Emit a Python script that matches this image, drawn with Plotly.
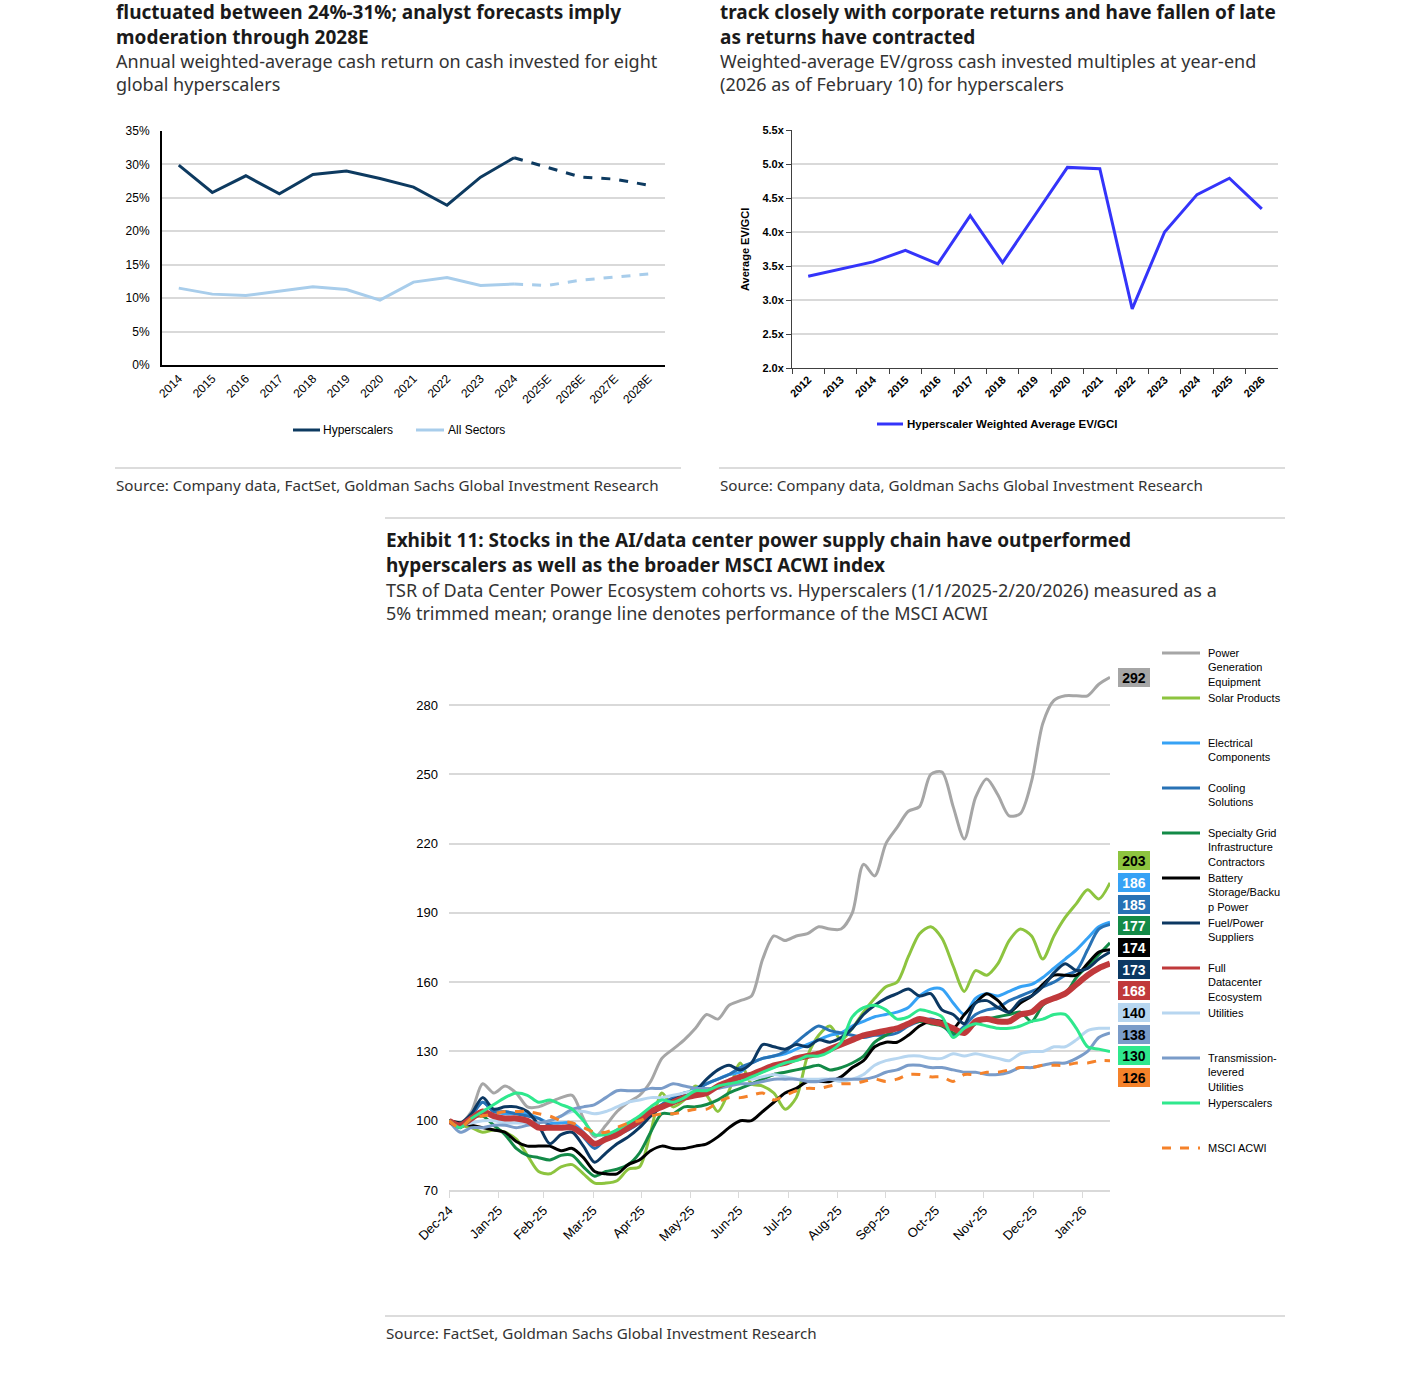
import datetime as dt
import plotly.graph_objects as go

W, H = 1401, 1379


def px(x):
    return x / W


def py(y):
    return 1 - y / H


HEAD_FONT = "Noto Sans"
AXIS_FONT = "Liberation Sans"

# --- left exhibit: cash return on cash invested ---
ret_years = ["2014", "2015", "2016", "2017", "2018", "2019", "2020", "2021",
             "2022", "2023", "2024", "2025E", "2026E", "2027E", "2028E"]
ret_hyperscalers = [29.9, 25.8, 28.3, 25.6, 28.5, 29.0, 27.9, 26.6, 23.9, 28.1,
                    31.0, 29.6, 28.1, 27.8, 26.9]
ret_all_sectors = [11.5, 10.6, 10.4, 11.0, 11.7, 11.3, 9.7, 12.4, 13.1, 11.9,
                   12.1, 11.9, 12.7, 13.2, 13.6]
n_actual = 11  # 2014-2024 reported, rest are forecasts

# --- right exhibit: EV / gross cash invested ---
ev_years = ["2012", "2013", "2014", "2015", "2016", "2017", "2018", "2019",
            "2020", "2021", "2022", "2023", "2024", "2025", "2026"]
ev_gci = [3.35, 3.45, 3.56, 3.73, 3.53, 4.24, 3.55, 4.25, 4.95, 4.93, 2.87,
          4.00, 4.55, 4.79, 4.34]

# --- exhibit 11: TSR indexed to 100, weekly ---
start = dt.date(2024, 12, 31)
weeks = [start + dt.timedelta(days=7 * i) for i in range(60)]

power_gen = [100, 99, 104, 116, 112, 115, 112, 106, 106, 108,
             110, 111, 101, 93, 98, 104, 108, 111, 117, 127,
             131, 135, 140, 146, 144, 150, 152, 154, 170, 180,
             178, 180, 181, 184, 183, 183, 190, 211, 206, 220,
             227, 234, 236, 250, 251, 236, 222, 240, 248, 241,
             232, 233, 247, 272, 282, 284, 284, 284, 289, 292]
solar = [100, 98, 97, 95, 96, 95, 92, 85, 78, 77,
         80, 81, 77, 73, 73, 74, 79, 80, 95, 112,
         106, 109, 115, 111, 104, 113, 125, 116, 115, 112,
         105, 110, 128, 137, 141, 135, 140, 147, 153, 158,
         160, 171, 181, 184, 179, 167, 156, 165, 163, 168,
         178, 183, 180, 170, 180, 188, 194, 200, 196, 203]
electrical = [100, 98, 103, 108, 104, 103, 103, 103, 101, 99,
              99, 99, 95, 90, 93, 96, 99, 101, 104, 107,
              110, 111, 114, 116, 118, 120, 121, 125, 127, 128,
              129, 131, 133, 135, 137, 138, 141, 143, 145, 146,
              147, 149, 154, 157, 157, 151, 146, 153, 155, 154,
              156, 158, 159, 162, 166, 170, 174, 179, 184, 186]
cooling = [100, 98, 102, 108, 104, 104, 103, 102, 101, 98,
           97, 98, 93, 88, 92, 94, 96, 99, 103, 107,
           110, 112, 113, 116, 118, 120, 123, 125, 127, 128,
           130, 134, 138, 141, 139, 138, 137, 136, 137, 137,
           138, 141, 143, 144, 142, 137, 141, 146, 148, 149,
           152, 154, 156, 158, 160, 163, 165, 174, 183, 185]
specialty_grid = [100, 97, 101, 102, 98, 94, 88, 85, 84, 83,
                  85, 85, 80, 76, 78, 79, 81, 86, 95, 103,
                  103, 106, 106, 107, 109, 112, 114, 116, 118, 120,
                  121, 122, 123, 124, 122, 123, 125, 128, 134, 137,
                  140, 142, 143, 142, 141, 138, 138, 142, 144, 145,
                  146, 147, 143, 150, 153, 155, 162, 167, 172, 177]
battery = [100, 99, 98, 97, 96, 95, 91, 89, 89, 89,
           87, 88, 84, 78, 77, 77, 81, 83, 87, 89,
           88, 88, 89, 90, 93, 97, 100, 100, 104, 108,
           112, 114, 117, 117, 117, 119, 123, 126, 132, 134,
           134, 137, 141, 143, 143, 140, 146, 151, 155, 152,
           147, 151, 154, 159, 163, 163, 163, 168, 173, 174]
fuel_power = [100, 99, 103, 110, 105, 106, 106, 104, 98, 90,
              94, 95, 89, 82, 86, 90, 93, 97, 102, 106,
              109, 111, 113, 118, 122, 124, 122, 125, 133, 132,
              131, 133, 132, 135, 134, 136, 140, 146, 150, 153,
              155, 157, 154, 155, 148, 146, 142, 151, 152, 149,
              147, 152, 154, 158, 164, 168, 165, 166, 170, 173]
full_datacenter = [100, 98, 101, 104, 102, 101, 101, 100, 97, 97,
                   97, 97, 94, 90, 92, 94, 97, 100, 104, 106,
                   108, 110, 111, 112, 115, 117, 119, 120, 122, 124,
                   125, 127, 128, 129, 131, 133, 135, 137, 138, 139,
                   140, 142, 144, 143, 142, 140, 138, 143, 144, 143,
                   143, 146, 147, 151, 153, 155, 159, 163, 166, 168]
utilities = [100, 98, 99, 100, 100, 99, 99, 99, 99, 100,
             102, 104, 104, 103, 104, 106, 108, 109, 110, 110,
             111, 112, 113, 113, 114, 116, 118, 118, 119, 120,
             119, 118, 118, 118, 118, 117, 118, 120, 124, 126,
             127, 128, 128, 127, 127, 129, 128, 129, 128, 127,
             126, 129, 130, 130, 132, 132, 135, 139, 140, 140]
transmission = [100, 95, 97, 97, 98, 98, 97, 98, 99, 100,
                102, 105, 106, 107, 110, 113, 113, 113, 114, 114,
                116, 115, 114, 114, 114, 115, 116, 116, 117, 118,
                118, 118, 117, 117, 118, 118, 118, 118, 119, 121,
                122, 124, 124, 123, 123, 122, 121, 121, 120, 120,
                121, 123, 123, 124, 125, 125, 127, 130, 136, 138]
hyperscalers = [100, 97, 101, 104, 107, 110, 112, 111, 108, 109,
                107, 105, 100, 94, 94, 96, 99, 102, 106, 109,
                108, 110, 113, 113, 115, 116, 117, 119, 121, 123,
                125, 126, 128, 128, 130, 134, 145, 149, 150, 148,
                144, 145, 148, 147, 145, 136, 140, 142, 141, 140,
                140, 141, 143, 144, 146, 146, 140, 132, 131, 130]
msci_acwi = [100, 97, 101, 102, 103, 104, 104, 104, 103, 102,
             100, 99, 97, 95, 95, 97, 99, 100, 102, 103,
             103, 104, 105, 105, 108, 110, 110, 111, 112, 109,
             111, 113, 114, 114, 115, 116, 116, 117, 118, 117,
             118, 120, 120, 119, 119, 117, 120, 120, 121, 121,
             122, 123, 123, 124, 124, 124, 125, 125, 126, 126]

month_ticks = ["2024-12-31", "2025-01-31", "2025-02-28", "2025-03-31",
               "2025-04-30", "2025-05-31", "2025-06-30", "2025-07-31",
               "2025-08-31", "2025-09-30", "2025-10-31", "2025-11-30",
               "2025-12-31", "2026-01-31"]
month_labels = ["Dec-24", "Jan-25", "Feb-25", "Mar-25", "Apr-25", "May-25",
                "Jun-25", "Jul-25", "Aug-25", "Sep-25", "Oct-25", "Nov-25",
                "Dec-25", "Jan-26"]

# legend name, values, colour, width, dash, colour of the end-label digits
cohorts = [
    ("Power<br>Generation<br>Equipment", power_gen, "#A6A6A6", 3, "solid", "#000"),
    ("Solar Products", solar, "#8DC43F", 3, "solid", "#000"),
    ("Electrical<br>Components", electrical, "#36A2F5", 3, "solid", "#fff"),
    ("Cooling<br>Solutions", cooling, "#2872B5", 3, "solid", "#fff"),
    ("Specialty Grid<br>Infrastructure<br>Contractors", specialty_grid, "#138A47", 3, "solid", "#fff"),
    ("Battery<br>Storage/Backu<br>p Power", battery, "#000000", 3, "solid", "#fff"),
    ("Fuel/Power<br>Suppliers", fuel_power, "#0C3862", 3, "solid", "#fff"),
    ("Full<br>Datacenter<br>Ecosystem", full_datacenter, "#C0393B", 6, "solid", "#fff"),
    ("Utilities", utilities, "#B7D6F0", 3, "solid", "#000"),
    ("Transmission-<br>levered<br>Utilities", transmission, "#7A9CC9", 3, "solid", "#000"),
    ("Hyperscalers", hyperscalers, "#2FE88D", 3, "solid", "#000"),
    ("MSCI ACWI", msci_acwi, "#F5822A", 3, "dash", "#000"),
]
draw_order = [0, 1, 2, 3, 4, 5, 6, 8, 9, 7, 10, 11]

NAVY = "#0D3A60"
LIGHT = "#A8CDEB"
EV_BLUE = "#3434FA"

fig = go.Figure()

# left exhibit
fig.add_trace(go.Scatter(x=ret_years[:n_actual], y=ret_hyperscalers[:n_actual], mode="lines",
                         line=dict(color=NAVY, width=3), xaxis="x", yaxis="y"))
fig.add_trace(go.Scatter(x=ret_years[n_actual - 1:], y=ret_hyperscalers[n_actual - 1:], mode="lines",
                         line=dict(color=NAVY, width=3, dash="dash"), xaxis="x", yaxis="y"))
fig.add_trace(go.Scatter(x=ret_years[:n_actual], y=ret_all_sectors[:n_actual], mode="lines",
                         line=dict(color=LIGHT, width=3), xaxis="x", yaxis="y"))
fig.add_trace(go.Scatter(x=ret_years[n_actual - 1:], y=ret_all_sectors[n_actual - 1:], mode="lines",
                         line=dict(color=LIGHT, width=3, dash="dash"), xaxis="x", yaxis="y"))

# right exhibit
fig.add_trace(go.Scatter(x=ev_years, y=ev_gci, mode="lines",
                         line=dict(color=EV_BLUE, width=3), xaxis="x2", yaxis="y2"))

# exhibit 11
for i in draw_order:
    name, vals, color, width, dash, _ = cohorts[i]
    fig.add_trace(go.Scatter(x=weeks, y=vals, mode="lines",
                             line=dict(color=color, width=width, dash=dash,
                                       shape="spline", smoothing=0.8),
                             xaxis="x3", yaxis="y3"))

shapes = []
ann = []


def text(x, y, s, size, bold=False, color="#333", family=HEAD_FONT, anchor="left", yanchor="middle", angle=0):
    ann.append(dict(x=px(x), y=py(y), xref="paper", yref="paper", text=s, showarrow=False,
                    xanchor=anchor, yanchor=yanchor, textangle=angle, align="left", borderpad=0,
                    font=dict(family=family, size=size, color=color,
                              weight="bold" if bold else "normal")))


def hline(x0, x1, y, color="#d0d0d0", width=1.5, dash="solid"):
    shapes.append(dict(type="line", xref="paper", yref="paper", x0=px(x0), x1=px(x1),
                       y0=py(y), y1=py(y), line=dict(color=color, width=width, dash=dash)))


# headers (two-line blocks, centred between their lines)
TITLE_SIZE, SUB_SIZE, SRC_SIZE = 19, 18, 15.2
text(115, 24, "fluctuated between 24%-31%; analyst forecasts imply<br>moderation through 2028E",
     TITLE_SIZE, True, "#1a1a1a")
text(115, 72.5, "Annual weighted-average cash return on cash invested for eight<br>global hyperscalers", SUB_SIZE)
text(719, 24, "track closely with corporate returns and have fallen of late<br>as returns have contracted",
     TITLE_SIZE, True, "#1a1a1a")
text(719, 72.5, "Weighted-average EV/gross cash invested multiples at year-end<br>(2026 as of February 10) for hyperscalers",
     SUB_SIZE)
hline(115, 681, 468)
hline(719, 1285, 468)
text(115, 485, "Source: Company data, FactSet, Goldman Sachs Global Investment Research", SRC_SIZE)
text(719, 485, "Source: Company data, Goldman Sachs Global Investment Research", SRC_SIZE)

hline(385, 1285, 518)
text(385, 552, "Exhibit 11: Stocks in the AI/data center power supply chain have outperformed<br>"
               "hyperscalers as well as the broader MSCI ACWI index", TITLE_SIZE, True, "#1a1a1a")
text(385, 601.5, "TSR of Data Center Power Ecosystem cohorts vs. Hyperscalers (1/1/2025-2/20/2026) measured as a<br>"
                 "5% trimmed mean; orange line denotes performance of the MSCI ACWI", SUB_SIZE)
hline(385, 1285, 1316)
text(385, 1333, "Source: FactSet, Goldman Sachs Global Investment Research", SRC_SIZE)

# left legend
hline(293, 320, 430, NAVY, 3)
text(322, 430, "Hyperscalers", 12, False, "#000", AXIS_FONT)
hline(416, 444, 430, LIGHT, 3)
text(447, 430, "All Sectors", 12, False, "#000", AXIS_FONT)

# right legend + axis title
hline(877, 903, 424, EV_BLUE, 3)
text(906, 424, "Hyperscaler Weighted Average EV/GCI", 11.5, True, "#000", AXIS_FONT)
text(745, 250, "Average EV/GCI", 11, True, "#000", AXIS_FONT, anchor="center", angle=-90)

# exhibit 11 legend
for i, (name, vals, color, width, dash, _) in enumerate(cohorts):
    ly = 653 + 45 * i
    hline(1162, 1200, ly, color, 3, "dash" if dash == "dash" else "solid")
    text(1207, ly - 7, name, 11, False, "#000", AXIS_FONT, yanchor="top")


def end_box(yv, value, bg, fg):
    ann.append(dict(x=px(1133.5), y=yv, xref="paper", yref="y3", text="<b>%d</b>" % value,
                    xanchor="center", yanchor="middle", showarrow=False,
                    bgcolor=bg, width=32, height=19, borderpad=0,
                    bordercolor="#fff", borderwidth=1,
                    font=dict(family=AXIS_FONT, size=14, color=fg)))


# end-value boxes: the outlier sits at its own level, the rest are stacked
px_per_unit = (1190 - 705) / 210.0
pitch = 21.65 / px_per_unit
top_name, top_vals, top_color, _, _, top_txt = cohorts[0]
end_box(top_vals[-1], top_vals[-1], top_color, top_txt)
rest = sorted(cohorts[1:], key=lambda c: -c[1][-1])
centre = sum(c[1][-1] for c in rest) / len(rest) + 2
for j, (name, vals, color, width, dash, txt) in enumerate(rest):
    end_box(centre + pitch * ((len(rest) - 1) / 2 - j), vals[-1], color, txt)

grid = "#d9d9d9"
tick_font = dict(family=AXIS_FONT, size=12, color="#000")
bold_tick = dict(family=AXIS_FONT, size=11, color="#000", weight="bold")

fig.update_layout(
    template="none",
    width=W, height=H, autosize=False,
    margin=dict(l=0, r=0, t=0, b=0, pad=0, autoexpand=False),
    paper_bgcolor="white", plot_bgcolor="white",
    showlegend=False,
    shapes=shapes, annotations=ann,
    xaxis=dict(domain=[px(162), px(665)], anchor="y", type="category", automargin=False,
               categoryorder="array", categoryarray=ret_years, range=[-0.5, 14.5],
               showline=True, linecolor="#000", linewidth=2, showgrid=False,
               tickangle=-45, tickfont=tick_font, ticks=""),
    yaxis=dict(domain=[py(365), py(131)], anchor="x", range=[0, 35], dtick=5, automargin=False,
               ticksuffix="%", showline=True, linecolor="#000", linewidth=2,
               gridcolor=grid, gridwidth=1.5, zeroline=False, tickfont=tick_font,
               ticks="", ticklabelstandoff=8),
    xaxis2=dict(domain=[px(792), px(1278)], anchor="y2", type="category", automargin=False,
                categoryorder="array", categoryarray=ev_years, range=[-0.5, 14.5],
                showline=True, linecolor="#404040", linewidth=1, showgrid=False,
                ticks="outside", tickson="boundaries", ticklen=5, tickcolor="#404040",
                tickangle=-45, tickfont=bold_tick),
    yaxis2=dict(domain=[py(368), py(130)], anchor="x2", range=[2, 5.5], dtick=0.5, automargin=False,
                tickformat=".1f", ticksuffix="x", showline=True, linecolor="#404040",
                linewidth=1, ticks="outside", ticklen=5, tickcolor="#404040",
                gridcolor=grid, gridwidth=1.5, zeroline=False, tickfont=bold_tick),
    xaxis3=dict(domain=[px(449), px(1110)], anchor="y3", type="date", automargin=False,
                range=[weeks[0], weeks[-1]], tickvals=month_ticks, ticktext=month_labels,
                tickangle=-45, ticks="outside", ticklen=6, tickcolor=grid,
                showline=True, linecolor=grid, linewidth=1.5, showgrid=False,
                tickfont=dict(family=AXIS_FONT, size=13, color="#000")),
    yaxis3=dict(domain=[py(1190), py(1190 - px_per_unit * 235)], anchor="x3", automargin=False,
                range=[70, 305], tickvals=list(range(70, 281, 30)),
                gridcolor=grid, gridwidth=1.5, zeroline=False, showline=False,
                tickfont=dict(family=AXIS_FONT, size=13, color="#000"),
                ticks="", ticklabelstandoff=10),
)

# drop the browser's default 8px body margin so the page starts at the corner
fig.write_html("out.html", config={"displayModeBar": False},
               post_script="document.body.style.margin = '0';")
